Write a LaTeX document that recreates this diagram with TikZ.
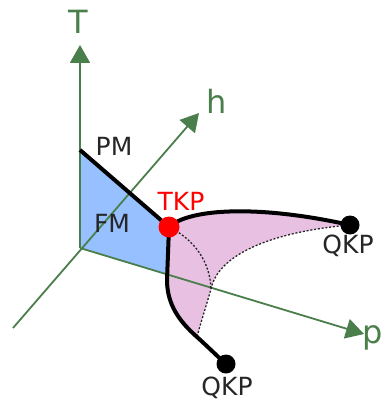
\documentclass[tikz,border=0pt]{standalone}
\usepackage{fontspec}
\setmainfont{DejaVu Sans}
\usetikzlibrary{arrows.meta}
\definecolor{axisgreen}{RGB}{74,126,74}
\definecolor{fmblue}{RGB}{150,192,255}
\definecolor{pinkfill}{RGB}{232,192,226}
\definecolor{tkpred}{RGB}{255,0,0}
\begin{document}
\begin{tikzpicture}[x=1pt,y=-1pt,
  axisline/.style={draw=axisgreen,line width=1.8pt},
  axisarrow/.style={axisline,-{Triangle[length=18pt,width=20pt]}},
  axislabel/.style={text=axisgreen,font=\fontsize{32}{34}\selectfont,inner sep=0pt},
  phaselabel/.style={text=black!85,font=\fontsize{25}{27}\selectfont,inner sep=0pt},
  thickline/.style={draw=black,line width=4pt},
  dotline/.style={draw=black!85,line width=1.3pt,dash pattern=on 2pt off 1.8pt},
  point/.style={circle,fill=black,inner sep=0pt,minimum size=19pt}]
\useasboundingbox (0,0) rectangle (382,403);
% coordinates
\coordinate (O) at (80,248);
\coordinate (Ttip) at (80,45);
\coordinate (hstart) at (13,328);
\coordinate (htip) at (199,113);
\coordinate (ptip) at (364,334);
\coordinate (PMs) at (80,150);
\coordinate (TKP) at (169,227);
\coordinate (QKPu) at (350,225);
\coordinate (QKPl) at (226,364);
\coordinate (Bb) at (168,275);
\coordinate (J) at (197,337);
\coordinate (X) at (211,289);
% FM region
\fill[fmblue] (PMs) -- (TKP) -- (Bb) -- (O) -- cycle;
% pink region
\fill[pinkfill] (TKP) .. controls (190,208) and (260,205) .. (QKPu)
  .. controls (270,232) and (218,255) .. (X)
  .. controls (205,310) and (200,325) .. (J)
  .. controls (180,322) and (167,305) .. (167,280) -- cycle;
% axes
\draw[axisarrow] (O) -- (Ttip);
\draw[axisarrow] (hstart) -- (htip);
\draw[axisarrow] (O) -- (ptip);
% dotted curves
\draw[dotline] (QKPu) .. controls (270,232) and (218,255) .. (X)
  .. controls (205,310) and (200,325) .. (J);
\draw[dotline] (TKP) .. controls (195,240) and (210,262) .. (X);
% thick curves
\draw[thickline] (PMs) -- (TKP);
\draw[thickline] (TKP) .. controls (190,208) and (260,205) .. (QKPu);
\draw[thickline] (TKP) -- (167,280) .. controls (167,305) and (180,322) .. (J)
  .. controls (207,346) and (215,354) .. (QKPl);
% points
\node[point] (qu) at (QKPu) {};
\node[point] (ql) at (QKPl) {};
\node[circle,fill=tkpred,inner sep=0pt,minimum size=21pt] (tk) at (TKP) {};
% labels
\node[axislabel] (lT) at (78,22) {T};
\node[axislabel] (lh) at (217,101) {h};
\node[axislabel,anchor=west] (lp) at (362,338) {p};
\node[phaselabel] (lPM) at (114,146) {PM};
\node[phaselabel] (lFM) at (112,223) {FM};
\node[phaselabel,text=tkpred] (lTKP) at (181,201) {TKP};
\node[phaselabel] (lQu) at (348,246) {QKP};
\node[phaselabel] (lQl) at (227,388) {QKP};
\end{tikzpicture}
\end{document}
